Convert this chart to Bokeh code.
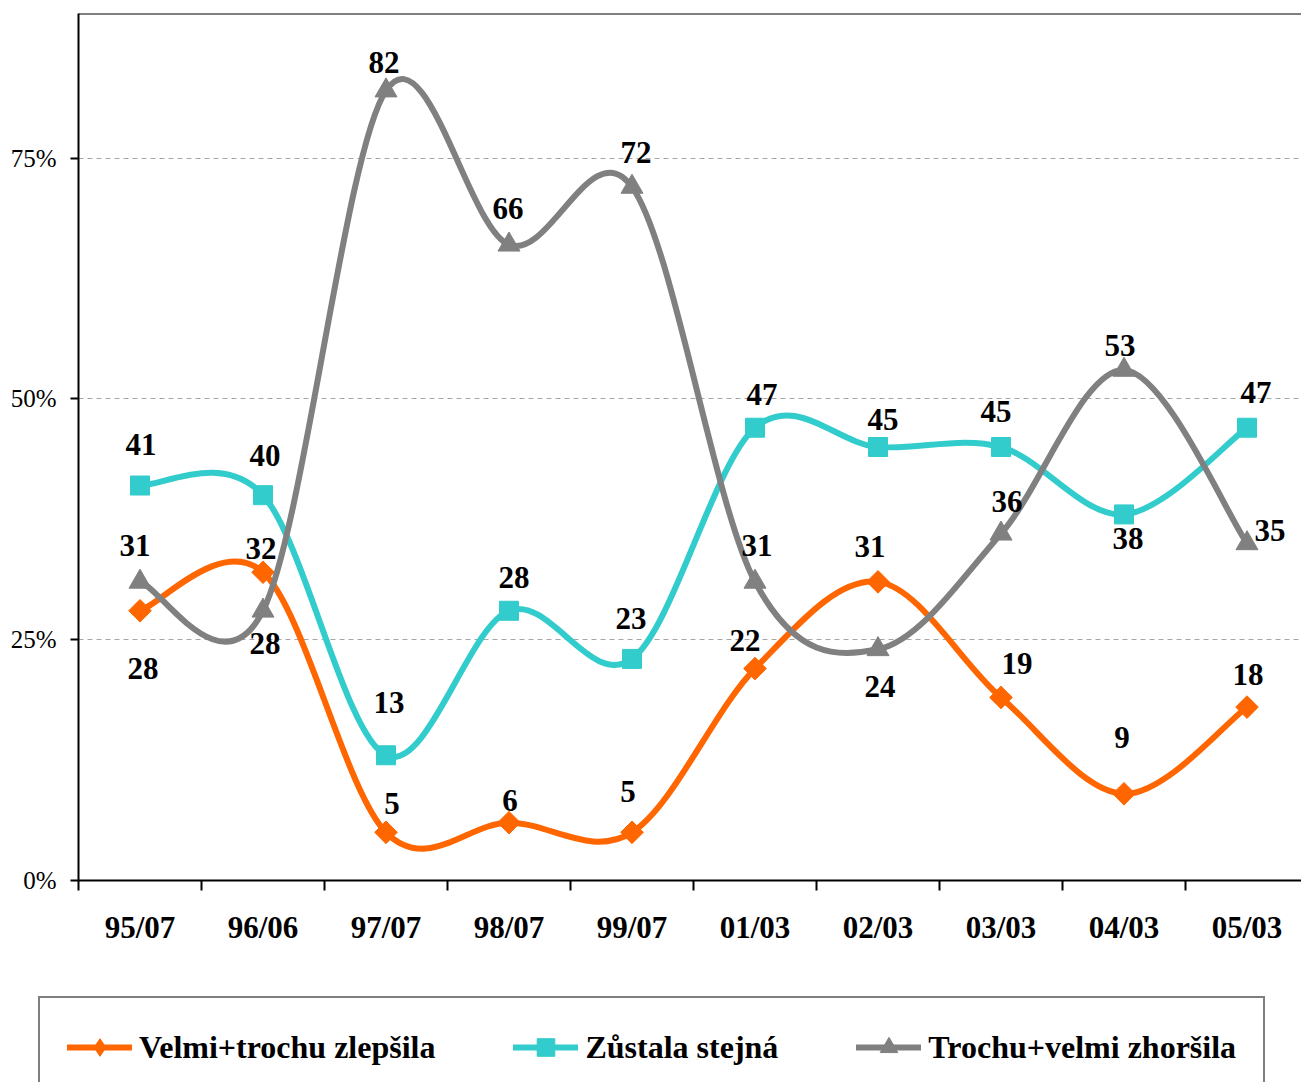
import math
from bokeh.plotting import figure
from bokeh.layouts import column, row
from bokeh.models import ColumnDataSource, FixedTicker, Range1d, Legend, LegendItem, Span
from bokeh.core.properties import value
from bokeh.embed import file_html
from bokeh.resources import INLINE

# ---------------- data ----------------
categories = ["95/07", "96/06", "97/07", "98/07", "99/07", "01/03", "02/03", "03/03", "04/03", "05/03"]
improved = [28, 32, 5, 6, 5, 22, 31, 19, 9, 18]
same = [41, 40, 13, 28, 23, 47, 45, 45, 38, 47]
worse = [31, 28, 82, 66, 72, 31, 24, 36, 53, 35]
series_names = ["Velmi+trochu zlepšila", "Zůstala stejná", "Trochu+velmi zhoršila"]
y_ticks = [0, 25, 50, 75]
y_tick_labels = ["0%", "25%", "50%", "75%"]

# ---------------- label placement (style, screen px) ----------------
improved_dx = [3, -2, 6, 1, -4, -10, -8, 16, -2, 1]
improved_dy = [58, -24, -29, -22, -41, -28, -35, -34, -56, -33]
same_dx = [1, 2, 3, 5, -1, 7, 5, -5, 4, 9]
same_dy = [-41, -40, -53, -33, -40, -33, -28, -36, 24, -35]
worse_dx = [-5, 2, -2, -1, 4, 2, 2, 6, -4, 23]
worse_dy = [-36, 33, -28, -36, -34, -36, 37, -32, -24, -13]

SERIF = "Liberation Serif"
colors = ["#FF6600", "#33CCCC", "#808080"]
markers = ["square", "square", "triangle"]
mangles = [math.pi / 4, 0, 0]
msizes = [16, 19, 22]

xs = list(range(len(categories)))


def bezier_segments(xv, yv):
    """Smooth (Catmull-Rom style) Bezier segments through the data points."""
    n = len(xv)
    out = dict(x0=[], y0=[], x1=[], y1=[], cx0=[], cy0=[], cx1=[], cy1=[])
    for i in range(n - 1):
        p0 = (xv[i - 1], yv[i - 1]) if i > 0 else (xv[i], yv[i])
        p1 = (xv[i], yv[i])
        p2 = (xv[i + 1], yv[i + 1])
        p3 = (xv[i + 2], yv[i + 2]) if i + 2 < n else (xv[i + 1], yv[i + 1])
        out["x0"].append(p1[0]); out["y0"].append(p1[1])
        out["x1"].append(p2[0]); out["y1"].append(p2[1])
        out["cx0"].append(p1[0] + (p2[0] - p0[0]) / 6.0)
        out["cy0"].append(p1[1] + (p2[1] - p0[1]) / 6.0)
        out["cx1"].append(p2[0] - (p3[0] - p1[0]) / 6.0)
        out["cy1"].append(p2[1] - (p3[1] - p1[1]) / 6.0)
    return out


p = figure(width=1301, height=985, output_backend="svg", toolbar_location=None,
           x_range=Range1d(-0.5, -0.5 + 1223 / 123.0), y_range=Range1d(0, 90),
           min_border_left=78, min_border_top=13, min_border_right=0, min_border_bottom=105)
p.outline_line_color = None
p.background_fill_color = "white"
p.border_fill_color = "white"
p.add_layout(Span(location=90, dimension="width", line_color="black", line_width=2))

# axes
p.xaxis.ticker = FixedTicker(ticks=xs, minor_ticks=[i - 0.5 for i in range(len(categories) + 1)])
p.xaxis.major_label_overrides = {i: c for i, c in enumerate(categories)}
p.xaxis.major_tick_line_color = None
p.xaxis.major_tick_out = 0
p.xaxis.major_tick_in = 0
p.xaxis.minor_tick_out = 10
p.xaxis.minor_tick_in = 0
p.xaxis.minor_tick_line_width = 2
p.xaxis.minor_tick_line_color = "black"
p.xaxis.axis_line_width = 2
p.xaxis.axis_line_color = "black"
p.xaxis.major_label_text_font = SERIF
p.xaxis.major_label_text_font_style = "bold"
p.xaxis.major_label_text_font_size = "31px"
p.xaxis.major_label_text_color = "black"
p.xaxis.major_label_standoff = 19

p.yaxis.ticker = FixedTicker(ticks=y_ticks)
p.yaxis.major_label_overrides = {t: l for t, l in zip(y_ticks, y_tick_labels)}
p.yaxis.major_tick_out = 8
p.yaxis.major_tick_in = 0
p.yaxis.major_tick_line_width = 2
p.yaxis.minor_tick_line_color = None
p.yaxis.axis_line_width = 2
p.yaxis.axis_line_color = "black"
p.yaxis.major_label_text_font = SERIF
p.yaxis.major_label_text_font_size = "25px"
p.yaxis.major_label_text_color = "black"
p.yaxis.major_label_standoff = 14

p.xgrid.grid_line_color = None
p.ygrid.ticker = FixedTicker(ticks=y_ticks)
p.ygrid.grid_line_color = "#a6a6a6"
p.ygrid.grid_line_dash = "5 4"
p.ygrid.grid_line_width = 1

all_series = [improved, same, worse]
all_dx = [improved_dx, same_dx, worse_dx]
all_dy = [improved_dy, same_dy, worse_dy]

for vals, col, mk, ma, ms in zip(all_series, colors, markers, mangles, msizes):
    seg = ColumnDataSource(bezier_segments(xs, vals))
    p.bezier(x0="x0", y0="y0", x1="x1", y1="y1", cx0="cx0", cy0="cy0", cx1="cx1", cy1="cy1",
             source=seg, line_color=col, line_width=6, line_cap="round")
    pts = ColumnDataSource(dict(x=xs, y=vals))
    p.scatter(x="x", y="y", source=pts, marker=mk, angle=ma, size=ms, fill_color=col, line_color=col)

for vals, dx, dy in zip(all_series, all_dx, all_dy):
    src = ColumnDataSource(dict(x=xs, y=vals, t=[str(v) for v in vals], dx=dx, dy=dy))
    p.text(x="x", y="y", text="t", source=src, x_offset="dx", y_offset="dy",
           text_align="center", text_baseline="middle", text_font=value(SERIF),
           text_font_style="bold", text_font_size="31px", text_color="black")

# ---------------- legend strip ----------------
lg = figure(width=1301, height=97, output_backend="svg", toolbar_location=None,
            x_range=Range1d(0, 1), y_range=Range1d(0, 1), x_axis_type=None, y_axis_type=None,
            min_border_left=0, min_border_right=0, min_border_top=0, min_border_bottom=0)
lg.outline_line_color = None
lg.xgrid.grid_line_color = None
lg.ygrid.grid_line_color = None
lg.background_fill_color = "white"
lg.border_fill_color = "white"

legend_items = []
for col, mk, name in zip(colors, ["diamond", "square", "triangle"], series_names):
    ln = lg.line(x=[-10, -9], y=[-10, -9], line_color=col, line_width=6, line_cap="round")
    sc = lg.scatter(x=[-10], y=[-10], marker=mk, size=16, fill_color=col, line_color=col)
    legend_items.append(LegendItem(label=name, renderers=[ln, sc]))

legend = Legend(items=legend_items, orientation="horizontal", location=(38, -16),
                glyph_width=65, glyph_height=44, label_standoff=7, spacing=78, padding=27,
                label_text_font=SERIF, label_text_font_style="bold", label_text_font_size="32px",
                label_text_color="black", border_line_color="black", border_line_width=2,
                background_fill_color="white", background_fill_alpha=1.0, margin=0)
lg.add_layout(legend, "center")

layout = column(p, row(lg, spacing=0), spacing=0)
open("out.html", "w").write(file_html(layout, INLINE))
